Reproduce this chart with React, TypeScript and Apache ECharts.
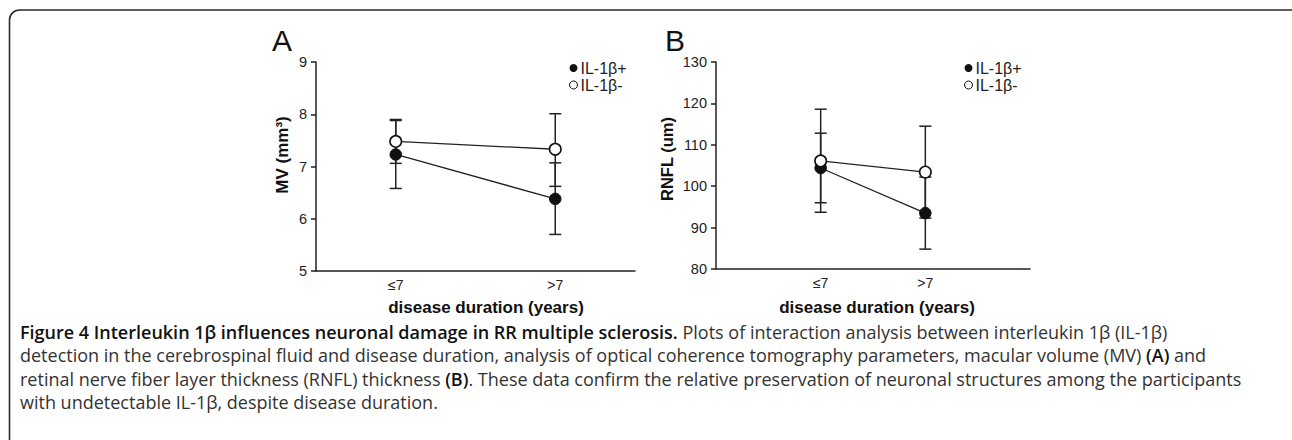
import React, { useEffect, useRef } from "react";
import * as echarts from "echarts";

const categories = ["≤7", ">7"];
const categoryX = [1, 2];

// Panel A: macular volume (mm³)
const mvPlusMean = [7.23, 6.38];
const mvPlusLow = [6.58, 5.7];
const mvPlusHigh = [7.88, 7.07];
const mvMinusMean = [7.48, 7.33];
const mvMinusLow = [7.06, 6.62];
const mvMinusHigh = [7.9, 8.01];

// Panel B: RNFL (um)
const rnflPlusMean = [104.4, 93.5];
const rnflPlusLow = [96.0, 84.8];
const rnflPlusHigh = [112.8, 102.2];
const rnflMinusMean = [106.1, 103.4];
const rnflMinusLow = [93.7, 92.3];
const rnflMinusHigh = [118.6, 114.5];

const seriesNames = ["IL-1β+", "IL-1β-"];

const captionLines = [
  "{b|Figure 4 Interleukin 1β influences neuronal damage in RR multiple sclerosis.} Plots of interaction analysis between interleukin 1β (IL-1β)",
  "detection in the cerebrospinal fluid and disease duration, analysis of optical coherence tomography parameters, macular volume (MV) {b|(A)} and",
  "retinal nerve fiber layer thickness (RNFL) thickness {b|(B)}. These data confirm the relative preservation of neuronal structures among the participants",
  "with undetectable IL-1β, despite disease duration.",
];

const AX = "#222";
const FONT = "Liberation Sans, Arial, sans-serif";
const CAP_FONT = "Open Sans, sans-serif";
const CAP_SIZE = 18;

function errData(low: number[], high: number[]) {
  return categoryX.map((x, i) => [x, low[i], high[i]]);
}
function ptData(mean: number[]) {
  return categoryX.map((x, i) => [x, mean[i]]);
}

function renderErr(params: any, api: any) {
  const x = api.value(0);
  const lo = api.coord([x, api.value(1)]);
  const hi = api.coord([x, api.value(2)]);
  const hw = 6;
  const style = { stroke: AX, lineWidth: 1.5, fill: "none" };
  return {
    type: "group",
    children: [
      { type: "line", shape: { x1: lo[0], y1: lo[1], x2: hi[0], y2: hi[1] }, style },
      { type: "line", shape: { x1: lo[0] - hw, y1: lo[1], x2: lo[0] + hw, y2: lo[1] }, style },
      { type: "line", shape: { x1: hi[0] - hw, y1: hi[1], x2: hi[0] + hw, y2: hi[1] }, style },
    ],
  };
}

function xAxisDef(gridIndex: number, min: number, max: number, interval: number) {
  return {
    type: "value",
    gridIndex,
    min,
    max,
    interval,
    axisLine: { show: true, lineStyle: { color: AX, width: 1.5 } },
    axisTick: { show: false },
    splitLine: { show: false },
    axisLabel: {
      color: AX,
      fontSize: 14,
      fontFamily: FONT,
      margin: 7,
      showMinLabel: true,
      showMaxLabel: true,
      formatter: (v: number) => {
        const idx = categoryX.indexOf(Math.round(v * 1000) / 1000);
        return idx >= 0 ? categories[idx] : "";
      },
    },
  };
}

function yAxisDef(gridIndex: number, min: number, max: number, interval: number) {
  return {
    type: "value",
    gridIndex,
    min,
    max,
    interval,
    axisLine: { show: true, lineStyle: { color: AX, width: 1.5 } },
    axisTick: { show: true, length: 5, lineStyle: { color: AX, width: 1.5 } },
    splitLine: { show: false },
    axisLabel: { color: AX, fontSize: 14.5, fontFamily: FONT, margin: 9 },
  };
}

function lineSeries(name: string, idx: number, mean: number[], filled: boolean) {
  return {
    name,
    type: "line",
    xAxisIndex: idx,
    yAxisIndex: idx,
    data: ptData(mean),
    symbol: "circle",
    symbolSize: 11.5,
    z: 5,
    lineStyle: { color: AX, width: 1.3 },
    itemStyle: filled
      ? { color: "#111", borderColor: "#111", borderWidth: 1 }
      : { color: "#fff", borderColor: "#111", borderWidth: 1.6 },
  };
}

function errSeries(idx: number, low: number[], high: number[]) {
  return {
    type: "custom",
    xAxisIndex: idx,
    yAxisIndex: idx,
    data: errData(low, high),
    encode: { x: 0, y: [1, 2] },
    renderItem: renderErr,
    z: 2,
    silent: true,
  };
}

function legendDef(left: number) {
  return {
    orient: "vertical",
    left,
    top: 60,
    icon: "circle",
    itemWidth: 8,
    itemHeight: 8,
    itemGap: 1,
    padding: 0,
    selectedMode: false,
    textStyle: { color: AX, fontSize: 16, fontFamily: FONT, lineHeight: 16, padding: [0, 0, 0, -2] },
    data: [
      { name: seriesNames[0], itemStyle: { color: "#111", borderColor: "#111", borderWidth: 0 } },
      { name: seriesNames[1], itemStyle: { color: "#fff", borderColor: "#111", borderWidth: 1 } },
    ],
  };
}

export default function App() {
  const ref = useRef<HTMLDivElement>(null);
  useEffect(() => {
    if (!ref.current) return;
    const chart = echarts.init(ref.current, null, { renderer: "svg" });
    const boldTitle = { fontWeight: "bold", fontFamily: FONT, fill: "#111" };
    const captionGraphics = captionLines.map((t, i) => ({
      type: "text",
      x: 20,
      y: 332 + i * 23.3,
      style: {
        text: t,
        fontSize: CAP_SIZE,
        fontFamily: CAP_FONT,
        fill: "#333",
        verticalAlign: "middle",
        rich: { b: { fontWeight: 600, fill: "#111", fontSize: CAP_SIZE, fontFamily: CAP_FONT } },
      },
    }));
    chart.setOption({
      animation: false,
      backgroundColor: "#fff",
      grid: [
        { left: 316, top: 62, width: 319, height: 209 },
        { left: 716, top: 62, width: 314, height: 207 },
      ],
      xAxis: [xAxisDef(0, 0.5, 2.5, 0.5), xAxisDef(1, 0, 3, 1)],
      yAxis: [yAxisDef(0, 5, 9, 1), yAxisDef(1, 80, 130, 10)],
      legend: [legendDef(569), legendDef(964)],
      series: [
        errSeries(0, mvPlusLow, mvPlusHigh),
        errSeries(0, mvMinusLow, mvMinusHigh),
        lineSeries(seriesNames[0], 0, mvPlusMean, true),
        lineSeries(seriesNames[1], 0, mvMinusMean, false),
        errSeries(1, rnflPlusLow, rnflPlusHigh),
        errSeries(1, rnflMinusLow, rnflMinusHigh),
        lineSeries(seriesNames[0], 1, rnflPlusMean, true),
        lineSeries(seriesNames[1], 1, rnflMinusMean, false),
      ],
      graphic: [
        {
          type: "rect",
          shape: { x: 9.5, y: 10, width: 1295, height: 520, r: [10, 10, 0, 0] },
          style: { fill: "none", stroke: "#2a2a2a", lineWidth: 1.6 },
          silent: true,
        },
        { type: "text", x: 272, y: 40, style: { text: "A", fontSize: 30, fontFamily: FONT, fill: "#111", verticalAlign: "middle" } },
        { type: "text", x: 665, y: 40, style: { text: "B", fontSize: 30, fontFamily: FONT, fill: "#111", verticalAlign: "middle" } },
        {
          type: "text",
          x: 282,
          y: 155,
          rotation: Math.PI / 2,
          style: { ...boldTitle, fontSize: 17, text: "MV (mm³)", align: "center", verticalAlign: "middle" },
        },
        {
          type: "text",
          x: 667,
          y: 159,
          rotation: Math.PI / 2,
          style: { ...boldTitle, fontSize: 16.5, text: "RNFL (um)", align: "center", verticalAlign: "middle" },
        },
        { type: "text", x: 486, y: 307, style: { ...boldTitle, fontSize: 17, text: "disease duration (years)", align: "center", verticalAlign: "middle" } },
        { type: "text", x: 877, y: 307, style: { ...boldTitle, fontSize: 17, text: "disease duration (years)", align: "center", verticalAlign: "middle" } },
        ...captionGraphics,
      ],
    });
    return () => chart.dispose();
  }, []);
  return (
    <div
      ref={ref}
      style={{ position: "fixed", left: 0, top: 0, width: 1292, height: 440, background: "#fff" }}
    />
  );
}
